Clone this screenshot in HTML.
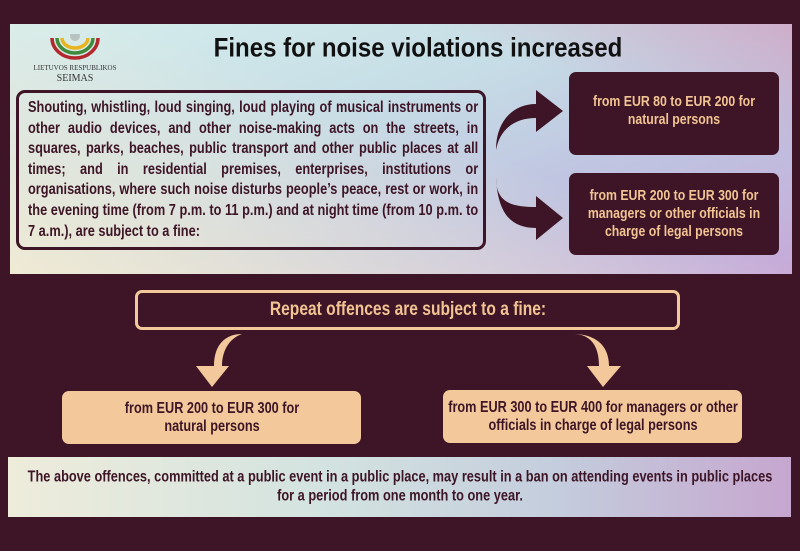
<!DOCTYPE html>
<html><head><meta charset="utf-8"><style>
*{margin:0;padding:0;box-sizing:border-box}
body{width:800px;height:551px;background:#3d1526;position:relative;overflow:hidden;font-family:"Liberation Sans",sans-serif;font-weight:bold}
.abs{position:absolute}
.panel{left:10px;top:24px;width:782px;height:250px;background:linear-gradient(160deg,#d6eeec 0%,#c6dde6 40%,#bfc2e0 70%,#c6a9d8 100%)}
.panel:after{content:"";position:absolute;inset:0;background:linear-gradient(20deg,rgba(244,236,210,.9) 0%,rgba(240,232,215,.4) 35%,rgba(255,255,255,0) 55%,rgba(214,150,185,0) 75%,rgba(214,150,185,.6) 100%)}
.in{position:absolute;left:50%;top:50%;transform:translate(-50%,-50%) scaleX(.82);text-align:center}
.title{left:418px;top:48px;width:520px;font-size:27px;color:#111;transform:translate(-50%,-50%) scaleX(.89);text-align:center}
.txt{left:16px;top:90px;width:470px;height:160px;border:3px solid #3d1526;border-radius:9px}
.txt .t{position:absolute;left:9px;top:5px;width:549px;transform:scaleX(.82);transform-origin:left top;font-size:15.6px;line-height:20.6px;color:#3d1526;text-align:justify;text-align-last:left}
.dark{background:#3d1526;color:#f3c493;border-radius:7px;font-size:15px;line-height:18px}
.peach{background:#f3c99b;color:#3d1526;border-radius:7px;font-size:15.5px;line-height:18px}
.bottom{left:8px;top:457px;width:783px;height:60px;background:linear-gradient(90deg,#eeecdb 0%,#d3e3e0 40%,#c4cddd 70%,#c6a6cf 100%);color:#3d1526;font-size:15.6px;line-height:18.5px}
</style></head><body>
<div class="abs panel"></div>
<div class="abs" style="left:48px;top:34px;width:54px;height:36px">
<svg width="54" height="36" viewBox="0 0 54 36">
<path d="M4,4 A23,20 0 0 0 50,4" fill="none" stroke="#b3282d" stroke-width="3.5"/>
<path d="M9,4 A18,15 0 0 0 45,4" fill="none" stroke="#3f8a3b" stroke-width="3.5"/>
<path d="M14,4 A13,10 0 0 0 40,4" fill="none" stroke="#e8b520" stroke-width="3.5"/>
<circle cx="27" cy="2" r="5" fill="#999" opacity=".5"/>
</svg></div>
<div class="abs" style="left:30px;top:64px;width:90px;text-align:center;font-family:'Liberation Serif',serif;font-weight:normal;color:#333;font-size:7px;line-height:9px">LIETUVOS RESPUBLIKOS<br><span style="font-size:10px;line-height:12px">SEIMAS</span></div>
<div class="abs title">Fines for noise violations increased</div>
<div class="abs txt"><div class="t">Shouting, whistling, loud singing, loud playing of musical instruments or other audio devices, and other noise-making acts on the streets, in squares, parks, beaches, public transport and other public places at all times; and in residential premises, enterprises, institutions or organisations, where such noise disturbs people’s peace, rest or work, in the evening time (from 7 p.m. to 11 p.m.) and at night time (from 10 p.m. to 7 a.m.), are subject to a fine:</div></div>
<svg class="abs" style="left:0;top:0" width="800" height="551">
<path d="M496,150 C496,120 514,104 536,104 L536,90 L563,111 L536,132 L536,118 C516,118 500,128 496,150 Z" fill="#3d1526"/>
<path d="M496,178 C496,204 514,207 536,207 L536,196 L563,218 L536,240 L536,228 C512,228 498,215 496,178 Z" fill="#3d1526"/>
<path d="M242,334 C225,334 214,345 214,366 L196,366 L212,387 L229,366 L222,366 C222,350 230,338 242,334 Z" fill="#f3c99b"/>
<path d="M573,334 C590,334 599,345 599,366 L587,366 L603,387 L621,366 L609,366 C609,345 595,334 573,334 Z" fill="#f3c99b"/>
</svg>
<div class="abs dark" style="left:569px;top:72px;width:210px;height:83px"><div class="in" style="width:250px;margin-top:-3px">from EUR 80 to EUR 200 for<br>natural persons</div></div>
<div class="abs dark" style="left:569px;top:173px;width:210px;height:82px"><div class="in" style="width:250px">from EUR 200 to EUR 300 for<br>managers or other officials in<br>charge of legal persons</div></div>
<div class="abs" style="left:135px;top:290px;width:545px;height:40px;border:3px solid #f3c99b;border-radius:7px;color:#f3c493;font-size:19px"><div class="in" style="width:600px">Repeat offences are subject to a fine:</div></div>
<div class="abs peach" style="left:62px;top:391px;width:299px;height:53px"><div class="in" style="width:360px">from EUR 200 to EUR 300 for<br>natural persons</div></div>
<div class="abs peach" style="left:443px;top:390px;width:299px;height:53px"><div class="in" style="width:360px">from EUR 300 to EUR 400 for managers or other<br>officials in charge of legal persons</div></div>
<div class="abs bottom"><div class="in" style="width:940px">The above offences, committed at a public event in a public place, may result in a ban on attending events in public places<br>for a period from one month to one year.</div></div>
</body></html>
